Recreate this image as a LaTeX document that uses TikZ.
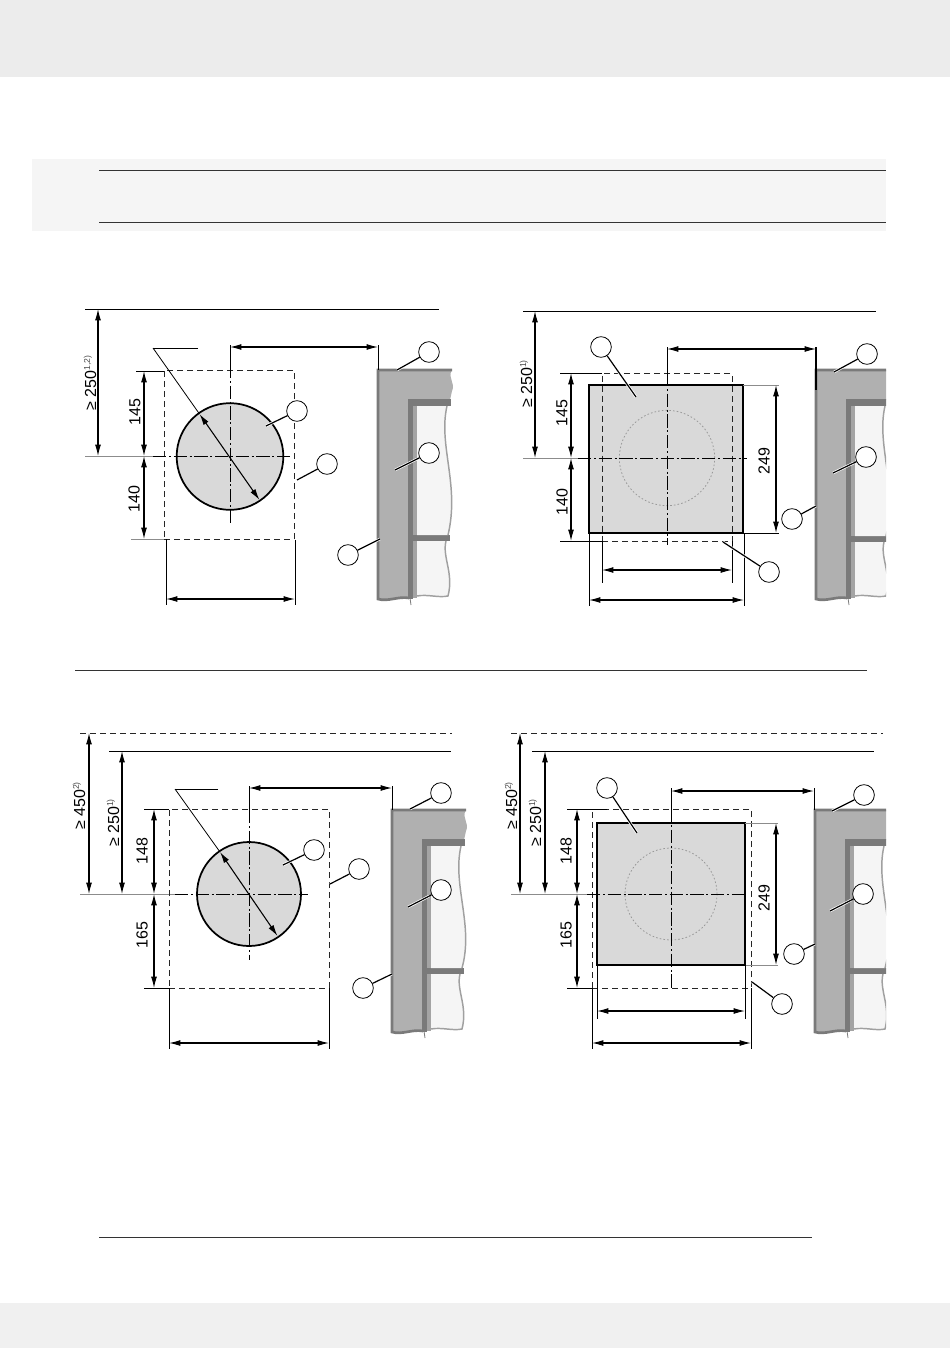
\documentclass[tikz,border=0pt]{standalone}
\usepackage{fontspec}
\setmainfont{Liberation Sans}
\usetikzlibrary{arrows.meta}

\definecolor{bandgrey}{HTML}{ECECEC}
\definecolor{boxgrey}{HTML}{F5F5F5}
\definecolor{platefill}{HTML}{D9D9D9}
\definecolor{wallgrey}{HTML}{B0B0B0}
\definecolor{walldark}{HTML}{7A7A7A}
\definecolor{wallmid}{HTML}{A4A4A4}
\definecolor{paneedge}{HTML}{A0A0A0}
\definecolor{paneface}{HTML}{F5F5F5}

\tikzset{
  dimline/.style={<->, line width=0.8pt},
  extline/.style={line width=0.6pt},
  greyline/.style={line width=0.6pt, draw=black!45},
  ruleline/.style={line width=0.65pt, draw=black!80},
  hidden/.style={line width=0.4pt, draw=black!85, dash pattern=on 4.5pt off 3pt},
  axisline/.style={line width=0.6pt, dash pattern=on 10pt off 2pt on 1.5pt off 2pt},
  ghostline/.style={line width=0.6pt, draw=black!40, dash pattern=on 1.2pt off 1.6pt},
  callout/.style={circle, draw, fill=white, line width=0.6pt, minimum size=15.5pt, inner sep=0pt},
  leader/.style={line width=0.9pt, preaction={draw=white, line width=2pt, shorten <=2pt}},
  dimtext/.style={rotate=90, inner sep=0pt, font=\fontsize{12}{13}\selectfont}
}

\newcommand{\noteref}[1]{\raisebox{4.5pt}{\textcolor{black!70}{\fontsize{6.5}{7}\selectfont #1}}}

% wall section: left edge, top, bottom, top of the mullion
\newcommand{\wallpart}[4]{%
  \begin{scope}[shift={(#1,0)}]
    \clip (-3,0) rectangle (886-#1,1348);
    \draw[walldark, line width=0.6pt] (32,#3) -- (33,#3+7);
    \fill[wallgrey] (0,#2) -- (74,#2) .. controls (69,#2+8) and (78,#2+13) .. (74,#2+21) -- (72,#2+30) -- (30,#2+30) -- (30,#3) .. controls (20,#3-2) and (10,#3+4) .. (0,#3+1) -- cycle;
    \draw[walldark, line width=2pt] (74,#2) -- (0,#2) -- (0,#3+1) .. controls (10,#3+4) and (20,#3-2) .. (31,#3);
    \fill[walldark] (30,#2+29) rectangle (73,#2+36);
    \fill[walldark] (30,#2+29) rectangle (35,#3+1);
    \fill[wallmid] (35,#2+36) rectangle (39,#3);
    \fill[walldark] (35,#4) rectangle (72,#4+6);
    \fill[paneface] (39,#2+36) -- (69,#2+36) .. controls (60,#2+75) and (82,#2+115) .. (70,#4) -- (39,#4) -- cycle;
    \draw[paneedge, line width=1.1pt] (69,#2+36) .. controls (60,#2+75) and (82,#2+115) .. (70,#4);
    \fill[paneface] (39,#4+6) -- (68,#4+6) .. controls (64,#4+22) and (76,#4+38) .. (70,#3-2) .. controls (60,#3) and (50,#3-4) .. (39,#3-2) -- cycle;
    \draw[paneedge, line width=1.1pt] (68,#4+6) .. controls (64,#4+22) and (76,#4+38) .. (70,#3-2) .. controls (60,#3) and (50,#3-4) .. (39,#3-2);
  \end{scope}%
}

\begin{document}
\begin{tikzpicture}[x=0.75pt, y=-0.75pt, >={Latex[length=8.5pt,width=4.4pt]}]

  \useasboundingbox (0,0) rectangle (950,1348);

  % page furniture
  \fill[bandgrey] (0,0) rectangle (950,77);
  \fill[bandgrey!80!white] (0,1303) rectangle (950,1348);
  \fill[boxgrey] (32,159) rectangle (886,231);
  \coordinate (r1a) at (99,170);
  \coordinate (r1b) at (886,170);
  \coordinate (r2a) at (99,222);
  \coordinate (r2b) at (886,222);
  \coordinate (r3a) at (75,670);
  \coordinate (r3b) at (867,670);
  \coordinate (r4a) at (99,1237);
  \coordinate (r4b) at (812,1237);
  \draw[ruleline] (r1a) -- (r1b);
  \draw[ruleline] (r2a) -- (r2b);
  \draw[ruleline] (r3a) -- (r3b);
  \draw[ruleline] (r4a) -- (r4b);

  % walls
  \wallpart{378}{370}{598}{535}
  \wallpart{816}{370}{598}{536}
  \wallpart{392}{810}{1031}{968}
  \wallpart{815}{810}{1031}{968}

  % ---------- upper left
  \foreach \n/\x/\y in {a0/85/309, a1/439/309, a2/98/309, a3/98/456, a4/85/456, a5/153/456, a6/291/456,
      a7/230/345, a8/230/365, a9/230/525, a10/230/347, a11/378/347, a12/378/345, a13/378/370,
      a14/136/371, a15/164/371, a16/131/539, a17/164/539, a18/144/371, a19/144/456, a20/144/539,
      a21/166/539, a22/166/605, a23/295/540, a24/295/605, a25/166/599, a26/295/599,
      a27/198/348, a28/153/348, a29/199.5/414, a30/259.5/500, a31/230/456.5, a32/230/370}
    \coordinate (\n) at (\x,\y);
  \draw[extline] (a0) -- (a1);
  \draw[greyline] (a4) -- (a5);
  \draw[dimline] (a2) -- (a3);
  \node[circle, draw, fill=platefill, line width=1.3pt, minimum size=80pt, inner sep=0pt] (holea) at (a31) {};
  \node[draw, hidden, minimum width=97.5pt, minimum height=126.75pt, inner sep=0pt] (covera) at (229,454.5) {};
  \draw[axisline] (a5) -- (a6);
  \draw[axisline] (a8) -- (a9);
  \draw[extline] (a7) -- (a32);
  \draw[dimline] (a10) -- (a11);
  \draw[extline] (a12) -- (a13);
  \draw[extline] (a14) -- (a15);
  \draw[greyline] (a16) -- (a17);
  \draw[dimline] (a18) -- (a19);
  \draw[dimline] (a19) -- (a20);
  \draw[extline] (a21) -- (a22);
  \draw[extline] (a23) -- (a24);
  \draw[dimline] (a25) -- (a26);
  \draw[extline] (a27) -- (a28);
  \draw[extline] (a28) -- (a29);
  \draw[dimline] (a29) -- (a30);
  \node[dimtext] (ta1) at (90,383) {≥ 250\noteref{1,2)}};
  \node[dimtext] (ta2) at (135,412) {145};
  \node[dimtext] (ta3) at (134,499) {140};
  \foreach \n/\x/\y/\lx/\ly in {ca1/429/352/397/370, ca2/297/411/266/426, ca3/327/464/297/480,
      ca4/429/453/395/470, ca5/348/555/380/539} {
    \node[callout] (\n) at (\x,\y) {};
    \coordinate (l\n) at (\lx,\ly);
    \draw[leader] (\n) -- (l\n);
  }

  % ---------- upper right
  \foreach \n/\x/\y in {b0/523/311, b1/876/311, b2/535/311, b3/535/458, b4/523/458, b5/578/458, b6/747/458,
      b7/667/347, b8/667/373, b9/667/545, b10/667/349, b11/816/349, b12/816/347, b13/816/390,
      b14/560/373, b15/602/373, b16/560/541, b17/602/541, b18/571/373, b19/571/458, b20/571/541,
      b21/743/385, b22/779/385, b23/743/533, b24/779/533, b25/776/385, b26/776/533,
      b27/602/541, b28/602/583, b29/732/541, b30/732/583, b31/602/570, b32/732/570,
      b33/589/533, b34/589/606, b35/744/533, b36/744/606, b37/589/600, b38/744/600, b39/667/458}
    \coordinate (\n) at (\x,\y);
  \draw[extline] (b0) -- (b1);
  \draw[greyline] (b4) -- (b5);
  \draw[dimline] (b2) -- (b3);
  \node[draw, fill=platefill, line width=1.5pt, minimum width=115.5pt, minimum height=111pt, inner sep=0pt] (plateb) at (666,459) {};
  \node[circle, ghostline, draw, minimum size=71.5pt, inner sep=0pt] (holeb) at (b39) {};
  \node[draw, hidden, minimum width=97.5pt, minimum height=126pt, inner sep=0pt] (coverb) at (667,457.5) {};
  \draw[axisline] (b5) -- (b6);
  \draw[axisline] (b8) -- (b9);
  \draw[extline] (b7) -- (b8);
  \draw[dimline] (b10) -- (b11);
  \draw[line width=1pt] (b12) -- (b13);
  \draw[extline] (b14) -- (b15);
  \draw[extline] (b16) -- (b17);
  \draw[dimline] (b18) -- (b19);
  \draw[dimline] (b19) -- (b20);
  \draw[greyline] (b21) -- (b22);
  \draw[extline] (b23) -- (b24);
  \draw[dimline] (b25) -- (b26);
  \draw[extline] (b27) -- (b28);
  \draw[extline] (b29) -- (b30);
  \draw[dimline] (b31) -- (b32);
  \draw[extline] (b33) -- (b34);
  \draw[extline] (b35) -- (b36);
  \draw[dimline] (b37) -- (b38);
  \node[dimtext] (tb1) at (526,384) {≥ 250\noteref{1)}};
  \node[dimtext] (tb2) at (562,413) {145};
  \node[dimtext] (tb3) at (562,502) {140};
  \node[dimtext] (tb4) at (764,461) {249};
  \foreach \n/\x/\y/\lx/\ly in {cb1/601/347/636/397, cb2/867/354/834/372, cb3/866/457/833/473,
      cb4/792/519/816/506, cb5/769/572/723/542} {
    \node[callout] (\n) at (\x,\y) {};
    \coordinate (l\n) at (\lx,\ly);
    \draw[leader] (\n) -- (l\n);
  }

  % ---------- lower left
  \foreach \n/\x/\y in {c0/80/733, c1/452/733, c2/109/751, c3/451/751, c4/89/733, c5/89/894, c6/122/751, c7/122/894,
      c8/80/894, c9/175/894, c10/308/894, c11/249/786, c12/249/810, c13/249/960, c14/249/788, c15/392/788,
      c16/392/786, c17/392/810, c18/144/809, c19/169/809, c20/144/988, c21/169/988,
      c22/154/809, c23/154/894, c24/154/988, c25/169/988, c26/169/1049, c27/329/988, c28/329/1049,
      c29/169/1043, c30/329/1043, c31/218/789, c32/175/789, c33/220/852, c34/277.5/936, c35/249/894}
    \coordinate (\n) at (\x,\y);
  \draw[hidden] (c0) -- (c1);
  \draw[extline] (c2) -- (c3);
  \draw[greyline] (c8) -- (c9);
  \draw[dimline] (c4) -- (c5);
  \draw[dimline] (c6) -- (c7);
  \node[circle, draw, fill=platefill, line width=1.3pt, minimum size=78pt, inner sep=0pt] (holec) at (c35) {};
  \node[draw, hidden, minimum width=120pt, minimum height=134.25pt, inner sep=0pt] (coverc) at (249,898.5) {};
  \draw[axisline] (c9) -- (c10);
  \draw[axisline] (c12) -- (c13);
  \draw[extline] (c11) -- (c12);
  \draw[dimline] (c14) -- (c15);
  \draw[extline] (c16) -- (c17);
  \draw[extline] (c18) -- (c19);
  \draw[extline] (c20) -- (c21);
  \draw[dimline] (c22) -- (c23);
  \draw[dimline] (c23) -- (c24);
  \draw[extline] (c25) -- (c26);
  \draw[extline] (c27) -- (c28);
  \draw[dimline] (c29) -- (c30);
  \draw[extline] (c31) -- (c32);
  \draw[extline] (c32) -- (c33);
  \draw[dimline] (c33) -- (c34);
  \node[dimtext] (tc1) at (79,806) {≥ 450\noteref{2)}};
  \node[dimtext] (tc2) at (113,823) {≥ 250\noteref{1)}};
  \node[dimtext] (tc3) at (142,851) {148};
  \node[dimtext] (tc4) at (142,935) {165};
  \foreach \n/\x/\y/\lx/\ly in {cc1/441/793/410/809, cc2/314/850/283/865, cc3/359/869/330/884,
      cc4/441/890/408/907, cc5/363/988/392/974} {
    \node[callout] (\n) at (\x,\y) {};
    \coordinate (l\n) at (\lx,\ly);
    \draw[leader] (\n) -- (l\n);
  }

  % ---------- lower right
  \foreach \n/\x/\y in {d0/511/733, d1/883/733, d2/532/751, d3/874/751, d4/520/733, d5/520/894, d6/545/751, d7/545/894,
      d8/511/894, d9/587/894, d10/747/894, d11/671/788, d12/671/809, d13/671/990, d14/671/791, d15/814/791,
      d16/814/788, d17/814/810, d18/567/809, d19/607/809, d20/567/988, d21/592/988,
      d22/577/809, d23/577/894, d24/577/988, d25/745/823, d26/778/823, d27/745/965, d28/778/965,
      d29/776/823, d30/776/965, d31/597/965, d32/597/1019, d33/745/965, d34/745/1019,
      d35/597/1011, d36/745/1011, d37/592/988, d38/592/1049, d39/751/988, d40/751/1049,
      d41/592/1043, d42/751/1043, d43/671/894}
    \coordinate (\n) at (\x,\y);
  \draw[hidden] (d0) -- (d1);
  \draw[extline] (d2) -- (d3);
  \draw[greyline] (d8) -- (d9);
  \draw[dimline] (d4) -- (d5);
  \draw[dimline] (d6) -- (d7);
  \node[draw, fill=platefill, line width=1.5pt, minimum width=111pt, minimum height=106.5pt, inner sep=0pt] (plated) at (671,894) {};
  \node[circle, ghostline, draw, minimum size=69pt, inner sep=0pt] (holed) at (d43) {};
  \node[draw, hidden, minimum width=119.25pt, minimum height=134.25pt, inner sep=0pt] (coverd) at (671.5,898.5) {};
  \draw[axisline] (d9) -- (d10);
  \draw[axisline] (d12) -- (d13);
  \draw[extline] (d11) -- (d12);
  \draw[dimline] (d14) -- (d15);
  \draw[extline] (d16) -- (d17);
  \draw[extline] (d18) -- (d19);
  \draw[extline] (d20) -- (d21);
  \draw[dimline] (d22) -- (d23);
  \draw[dimline] (d23) -- (d24);
  \draw[greyline] (d25) -- (d26);
  \draw[greyline] (d27) -- (d28);
  \draw[dimline] (d29) -- (d30);
  \draw[extline] (d31) -- (d32);
  \draw[extline] (d33) -- (d34);
  \draw[dimline] (d35) -- (d36);
  \draw[extline] (d37) -- (d38);
  \draw[extline] (d39) -- (d40);
  \draw[dimline] (d41) -- (d42);
  \node[dimtext] (td1) at (511,806) {≥ 450\noteref{2)}};
  \node[dimtext] (td2) at (535,823) {≥ 250\noteref{1)}};
  \node[dimtext] (td3) at (566,851) {148};
  \node[dimtext] (td4) at (566,935) {165};
  \node[dimtext] (td5) at (764,898) {249};
  \foreach \n/\x/\y/\lx/\ly in {cd1/607/788/637/833, cd2/864/795/832/811, cd3/863/894/830/911,
      cd4/794/954/815/944, cd5/782/1004/752/982} {
    \node[callout] (\n) at (\x,\y) {};
    \coordinate (l\n) at (\lx,\ly);
    \draw[leader] (\n) -- (l\n);
  }

\end{tikzpicture}
\end{document}
